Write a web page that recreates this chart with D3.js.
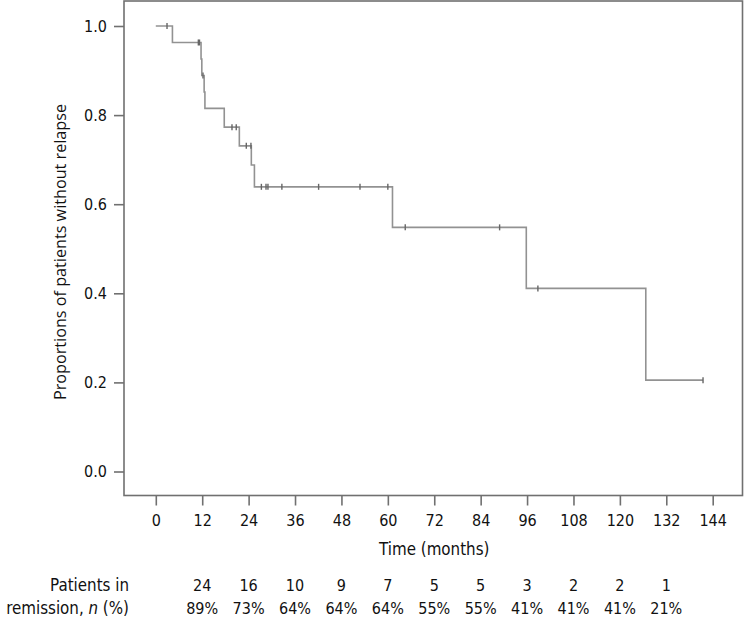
<!DOCTYPE html>
<html>
<head>
<meta charset="utf-8">
<script src="https://cdn.jsdelivr.net/npm/d3@7"></script>
<style>
  body { margin: 0; background: #fff; }
  svg { display: block; }
</style>
</head>
<body>
<svg id="chart" width="746" height="622"></svg>
<script>
// relapse-free steps: time (months) and survival after each event
var eventTimes = [0, 4.3, 11.7, 11.9, 12.5, 12.7, 17.7, 21.6, 24.7, 25.5, 61.2, 95.8, 126.7];
var survival = [1.0, 0.963, 0.926, 0.889, 0.852, 0.815, 0.773, 0.731, 0.688, 0.639, 0.548, 0.411, 0.205];
var lastTime = 141.5;
// censored observations
var censorTimes = [2.9, 11.0, 11.3, 12.2, 19.7, 20.8, 23.4, 24.6, 27.3, 28.5, 29.0, 32.6,
  42.1, 52.8, 60.0, 64.5, 88.9, 98.8, 141.5];

var xTicks = [0, 12, 24, 36, 48, 60, 72, 84, 96, 108, 120, 132, 144];
var yTicks = [0, 0.2, 0.4, 0.6, 0.8, 1.0];
// number at risk table
var riskTimes = [12, 24, 36, 48, 60, 72, 84, 96, 108, 120, 132];
var atRisk = ['24', '16', '10', '9', '7', '5', '5', '3', '2', '2', '1'];
var atRiskPct = ['89%', '73%', '64%', '64%', '64%', '55%', '55%', '41%', '41%', '41%', '21%'];

var tickFont = '"DejaVu Sans Condensed", "DejaVu Sans", sans-serif';
var titleFont = '"Open Sans", "Noto Sans", sans-serif';

var svg = d3.select('#chart');

var frame = { left: 124, right: 742.5, top: 1, bottom: 495.5 };
var x = d3.scaleLinear().domain([0, 144]).range([155.8, 712.7]);
var y = d3.scaleLinear().domain([0, 1]).range([471.5, 26]);

// frame
svg.append('rect')
  .attr('x', frame.left)
  .attr('y', frame.top)
  .attr('width', frame.right - frame.left)
  .attr('height', frame.bottom - frame.top)
  .attr('fill', 'none')
  .attr('stroke', '#707070')
  .attr('stroke-width', 1.6);

// y axis
var yAxis = d3.axisLeft(y)
  .tickValues(yTicks)
  .tickFormat(d3.format('.1f'))
  .tickSize(10)
  .tickPadding(7);
var gy = svg.append('g')
  .attr('transform', 'translate(' + frame.left + ',0)')
  .call(yAxis);
gy.select('.domain').remove();

// x axis
var xAxis = d3.axisBottom(x)
  .tickValues(xTicks)
  .tickFormat(d3.format('d'))
  .tickSize(10)
  .tickPadding(9);
var gx = svg.append('g')
  .attr('transform', 'translate(0,' + frame.bottom + ')')
  .call(xAxis);
gx.select('.domain').remove();

svg.selectAll('.tick line')
  .attr('stroke', '#707070')
  .attr('stroke-width', 1.6);
svg.selectAll('.tick text')
  .attr('fill', '#111')
  .attr('font-family', tickFont)
  .attr('font-size', 16);

// axis titles
svg.append('text')
  .attr('x', (x(0) + x(144)) / 2)
  .attr('y', 555)
  .attr('text-anchor', 'middle')
  .attr('font-family', tickFont)
  .attr('font-size', 16.8)
  .attr('fill', '#111')
  .text('Time (months)');

svg.append('text')
  .attr('transform', 'translate(66,252) rotate(-90)')
  .attr('text-anchor', 'middle')
  .attr('font-family', titleFont)
  .attr('font-size', 16.2)
  .attr('fill', '#111')
  .text('Proportions of patients without relapse');

// step curve
var pts = eventTimes.map((t, i) => [t, survival[i]]);
pts.push([lastTime, survival[survival.length - 1]]);
var lnMkr = d3.line()
  .x((d) => x(d[0]))
  .y((d) => y(d[1]))
  .curve(d3.curveStepAfter);
svg.append('path')
  .attr('d', lnMkr(pts))
  .attr('fill', 'none')
  .attr('stroke', '#929292')
  .attr('stroke-width', 1.6);

// censor marks
function survAt(t) {
  var s = 1;
  for (var i = 0; i < eventTimes.length; i++) {
    if (eventTimes[i] <= t) s = survival[i];
  }
  return s;
}
svg.append('g')
  .selectAll('line')
  .data(censorTimes)
  .enter()
  .append('line')
  .attr('x1', (d) => x(d))
  .attr('x2', (d) => x(d))
  .attr('y1', (d) => y(survAt(d)) - 3)
  .attr('y2', (d) => y(survAt(d)) + 3)
  .attr('stroke', '#666')
  .attr('stroke-width', 1.4);

// at-risk table
var tbl = svg.append('g')
  .attr('font-family', tickFont)
  .attr('font-size', 16.8)
  .attr('fill', '#111');

tbl.append('text')
  .attr('x', 129)
  .attr('y', 591)
  .attr('text-anchor', 'end')
  .text('Patients in');

var rem = tbl.append('text')
  .attr('x', 129)
  .attr('y', 614)
  .attr('text-anchor', 'end');
rem.append('tspan').text('remission, ');
rem.append('tspan').attr('font-style', 'italic').text('n');
rem.append('tspan').text(' (%)');

tbl.selectAll('text.n')
  .data(riskTimes)
  .enter()
  .append('text')
  .attr('class', 'n')
  .attr('x', (d) => x(d))
  .attr('y', 591)
  .attr('font-size', 16)
  .attr('text-anchor', 'middle')
  .text((d, i) => atRisk[i]);

tbl.selectAll('text.p')
  .data(riskTimes)
  .enter()
  .append('text')
  .attr('class', 'p')
  .attr('x', (d) => x(d))
  .attr('y', 614)
  .attr('font-size', 16)
  .attr('text-anchor', 'middle')
  .text((d, i) => atRiskPct[i]);
</script>
</body>
</html>
